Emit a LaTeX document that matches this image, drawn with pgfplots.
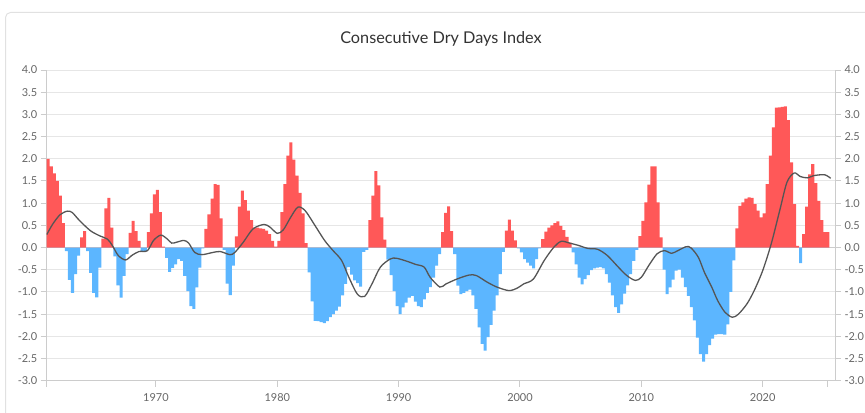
\documentclass[border=0pt]{standalone}
\usepackage{fontspec}
\setmainfont{Lato}
\usepackage{pgfplots}
\pgfplotsset{compat=1.18}
\usepackage{pgfplotstable}
\definecolor{barred}{RGB}{255,88,88}
\definecolor{barblue}{RGB}{92,182,255}
\definecolor{gridgray}{RGB}{230,230,230}
\definecolor{axisgray}{RGB}{204,204,204}
\definecolor{labelgray}{RGB}{102,102,102}
\definecolor{linegray}{RGB}{85,85,85}
\definecolor{titlegray}{RGB}{51,51,51}
\definecolor{cardgray}{RGB}{225,225,225}

\pgfplotstableread{
x pos neg
1961.00 2.00 0
1961.25 1.83 0
1961.50 1.67 0
1961.75 1.50 0
1962.00 1.17 0
1962.25 0.55 0
1962.50 0 -0.08
1962.75 0 -0.73
1963.00 0 -1.02
1963.25 0 -0.60
1963.50 0 -0.18
1963.75 0.23 0
1964.00 0.37 0
1964.25 0 -0.08
1964.50 0 -0.57
1964.75 0 -1.02
1965.00 0 -1.12
1965.25 0 -0.45
1965.50 0.20 0
1965.75 0.88 0
1966.00 1.12 0
1966.25 0.45 0
1966.50 0 -0.20
1966.75 0 -0.85
1967.00 0 -1.13
1967.25 0 -0.64
1967.50 0 -0.15
1967.75 0.33 0
1968.00 0.60 0
1968.25 0.37 0
1968.50 0.15 0
1968.75 0 -0.08
1969.00 0 -0.08
1969.25 0.35 0
1969.50 0.77 0
1969.75 1.20 0
1970.00 1.30 0
1970.25 0.80 0
1970.50 0.02 0
1970.75 0 -0.23
1971.00 0 -0.55
1971.25 0 -0.46
1971.50 0 -0.38
1971.75 0 -0.26
1972.00 0 -0.30
1972.25 0 -0.64
1972.50 0 -0.98
1972.75 0 -1.32
1973.00 0 -1.38
1973.25 0 -0.90
1973.50 0 -0.45
1973.75 0 -0.02
1974.00 0.42 0
1974.25 0.75 0
1974.50 1.10 0
1974.75 1.43 0
1975.00 1.41 0
1975.25 0.66 0
1975.50 0 -0.05
1975.75 0 -0.81
1976.00 0 -1.07
1976.25 0 -0.41
1976.50 0.25 0
1976.75 0.92 0
1977.00 1.28 0
1977.25 1.07 0
1977.50 0.83 0
1977.75 0.62 0
1978.00 0.45 0
1978.25 0.45 0
1978.50 0.43 0
1978.75 0.42 0
1979.00 0.38 0
1979.25 0.30 0
1979.50 0.15 0
1979.75 0.02 0
1980.00 0.15 0
1980.25 0.80 0
1980.50 1.43 0
1980.75 2.07 0
1981.00 2.37 0
1981.25 1.98 0
1981.50 1.62 0
1981.75 1.23 0
1982.00 0.77 0
1982.25 0.10 0
1982.50 0 -0.56
1982.75 0 -1.21
1983.00 0 -1.65
1983.25 0 -1.66
1983.50 0 -1.68
1983.75 0 -1.70
1984.00 0 -1.66
1984.25 0 -1.57
1984.50 0 -1.50
1984.75 0 -1.42
1985.00 0 -1.33
1985.25 0 -1.08
1985.50 0 -0.82
1985.75 0 -0.44
1986.00 0 -0.61
1986.25 0 -0.74
1986.50 0 -0.80
1986.75 0 -0.88
1987.00 0 -0.10
1987.25 0 -0.05
1987.50 0.62 0
1987.75 1.17 0
1988.00 1.72 0
1988.25 1.40 0
1988.50 0.68 0
1988.75 0.18 0
1989.00 0 -0.27
1989.25 0 -0.62
1989.50 0 -0.98
1989.75 0 -1.32
1990.00 0 -1.50
1990.25 0 -1.35
1990.50 0 -1.24
1990.75 0 -1.13
1991.00 0 -1.09
1991.25 0 -1.22
1991.50 0 -1.32
1991.75 0 -1.34
1992.00 0 -1.17
1992.25 0 -1.02
1992.50 0 -0.89
1992.75 0 -0.68
1993.00 0 -0.41
1993.25 0 -0.15
1993.50 0.35 0
1993.75 0.78 0
1994.00 0.93 0
1994.25 0.37 0
1994.50 0 -0.15
1994.75 0 -0.86
1995.00 0 -1.05
1995.25 0 -1.02
1995.50 0 -0.98
1995.75 0 -0.95
1996.00 0 -1.08
1996.25 0 -1.38
1996.50 0 -1.80
1996.75 0 -2.17
1997.00 0 -2.32
1997.25 0 -2.02
1997.50 0 -1.74
1997.75 0 -1.42
1998.00 0 -1.08
1998.25 0 -0.60
1998.50 0 -0.10
1998.75 0.38 0
1999.00 0.63 0
1999.25 0.38 0
1999.50 0.16 0
1999.75 0 -0.02
2000.00 0 -0.11
2000.25 0 -0.26
2000.50 0 -0.34
2000.75 0 -0.41
2001.00 0 -0.47
2001.25 0 -0.26
2001.50 0 -0.02
2001.75 0.19 0
2002.00 0.36 0
2002.25 0.45 0
2002.50 0.50 0
2002.75 0.55 0
2003.00 0.59 0
2003.25 0.49 0
2003.50 0.39 0
2003.75 0.24 0
2004.00 0.11 0
2004.25 0 -0.11
2004.50 0 -0.38
2004.75 0 -0.68
2005.00 0 -0.83
2005.25 0 -0.71
2005.50 0 -0.62
2005.75 0 -0.51
2006.00 0 -0.47
2006.25 0 -0.45
2006.50 0 -0.44
2006.75 0 -0.47
2007.00 0 -0.60
2007.25 0 -0.79
2007.50 0 -1.08
2007.75 0 -1.34
2008.00 0 -1.47
2008.25 0 -1.28
2008.50 0 -1.04
2008.75 0 -0.85
2009.00 0 -0.60
2009.25 0 -0.30
2009.50 0 -0.05
2009.75 0.26 0
2010.00 0.60 0
2010.25 1.02 0
2010.50 1.42 0
2010.75 1.83 0
2011.00 1.83 0
2011.25 1.02 0
2011.50 0.23 0
2011.75 0 -0.50
2012.00 0 -1.05
2012.25 0 -0.90
2012.50 0 -0.72
2012.75 0 -0.52
2013.00 0 -0.50
2013.25 0 -0.68
2013.50 0 -0.89
2013.75 0 -1.09
2014.00 0 -1.34
2014.25 0 -1.64
2014.50 0 -2.03
2014.75 0 -2.40
2015.00 0 -2.57
2015.25 0 -2.40
2015.50 0 -2.20
2015.75 0 -2.05
2016.00 0 -1.96
2016.25 0 -1.95
2016.50 0 -1.95
2016.75 0 -1.96
2017.00 0 -1.73
2017.25 0 -1.00
2017.50 0 -0.29
2017.75 0.43 0
2018.00 0.94 0
2018.25 1.02 0
2018.50 1.10 0
2018.75 1.13 0
2019.00 1.12 0
2019.25 0.98 0
2019.50 0.83 0
2019.75 0.68 0
2020.00 0.77 0
2020.25 1.43 0
2020.50 2.07 0
2020.75 2.71 0
2021.00 3.15 0
2021.25 3.16 0
2021.50 3.17 0
2021.75 3.18 0
2022.00 2.87 0
2022.25 1.92 0
2022.50 0.98 0
2022.75 0.04 0
2023.00 0 -0.35
2023.25 0.30 0
2023.50 0.92 0
2023.75 1.65 0
2024.00 1.88 0
2024.25 1.45 0
2024.50 1.05 0
2024.75 0.62 0
2025.00 0.35 0
2025.25 0.35 0
2025.50 0 0
}\bars

\pgfplotstableread{
x y
1961.0 0.29
1961.5 0.53
1962.1 0.74
1962.7 0.82
1963.1 0.79
1963.7 0.61
1964.6 0.38
1965.4 0.26
1966.0 0.19
1966.4 0.05
1966.9 -0.18
1967.5 -0.28
1968.0 -0.18
1968.6 -0.09
1969.3 -0.07
1969.8 0.16
1970.4 0.28
1970.9 0.20
1971.3 0.10
1971.7 0.12
1972.3 0.16
1972.7 0.10
1973.2 -0.11
1973.8 -0.16
1974.7 -0.11
1975.3 -0.09
1976.1 -0.16
1976.5 -0.11
1977.2 0.12
1978.0 0.42
1978.9 0.52
1979.4 0.46
1980.0 0.32
1980.5 0.40
1981.1 0.68
1981.7 0.91
1982.3 0.83
1983.1 0.50
1983.9 0.16
1984.6 -0.07
1985.3 -0.29
1985.9 -0.67
1986.6 -1.05
1987.2 -1.10
1987.8 -0.82
1988.5 -0.44
1989.3 -0.26
1989.8 -0.24
1990.7 -0.31
1991.4 -0.38
1992.1 -0.44
1992.6 -0.67
1993.4 -0.89
1993.9 -0.82
1994.8 -0.71
1995.8 -0.62
1996.4 -0.63
1997.3 -0.78
1998.1 -0.89
1999.1 -0.97
1999.8 -0.91
2000.3 -0.82
2001.1 -0.71
2002.0 -0.29
2002.8 0.01
2003.4 0.14
2004.1 0.10
2004.8 0.05
2005.6 -0.02
2006.4 -0.04
2007.2 -0.18
2008.1 -0.44
2008.8 -0.63
2009.5 -0.74
2010.0 -0.67
2010.6 -0.41
2011.3 -0.14
2011.9 -0.07
2012.5 -0.13
2013.0 -0.07
2013.7 0.02
2014.1 -0.01
2014.7 -0.22
2015.2 -0.56
2015.8 -0.89
2016.3 -1.20
2016.9 -1.46
2017.5 -1.57
2018.0 -1.50
2018.7 -1.27
2019.3 -0.97
2020.0 -0.52
2020.7 0.08
2021.4 0.83
2022.0 1.47
2022.6 1.68
2023.1 1.60
2023.7 1.57
2024.2 1.62
2025.1 1.64
2025.6 1.56
}\trend

\pgfplotsset{
  common/.style={
    at={(46.7bp,31.3bp)}, anchor=south west,
    scale only axis, width=788.3bp, height=310.7bp,
    xmin=1961, xmax=2025.96, ymin=-3, ymax=4,
    ytick={-3,-2.5,-2,-1.5,-1,-0.5,0,0.5,1,1.5,2,2.5,3,3.5,4},
    tick align=outside, major tick length=6bp,
    tick style={axisgray, line width=1bp},
    axis line style={axisgray, line width=1bp, -},
    tick label style={font=\fontsize{11}{13}\selectfont, text=labelgray},
    /pgf/number format/assume math mode=true,
    yticklabel style={/pgf/number format/.cd, fixed, fixed zerofill, precision=1},
    xticklabel style={/pgf/number format/1000 sep={}, yshift=-3.5bp},
  }
}

\begin{document}
\begin{tikzpicture}[x=1bp,y=1bp]
\path[use as bounding box] (0,0) rectangle (865,412);
\draw[cardgray, line width=1bp, rounded corners=5bp] (5.5,-20) -- (5.5,399.5) -- (900,399.5);
\node[text=titlegray, font=\fontsize{16.3}{19}\selectfont] at (441,373.5) {Consecutive Dry Days Index};
\begin{axis}[common,
  axis x line*=bottom, axis y line*=left,
  xtick={1970,1980,1990,2000,2010,2020},
  extra x ticks={1961,2025.35}, extra x tick labels={},
  ymajorgrids, grid style={gridgray, line width=1bp},
  extra y ticks={0}, extra y tick labels={},
  extra y tick style={grid style={axisgray, line width=1bp}},
]
\addplot[ybar interval, fill=barred, draw=none] table[x=x, y=pos] {\bars};
\addplot[ybar interval, fill=barblue, draw=none] table[x=x, y=neg] {\bars};
\addplot[linegray, line width=1.3bp, smooth, no markers] table[x=x, y=y] {\trend};
\end{axis}
\begin{axis}[common,
  axis x line=none, axis y line*=right,
]
\end{axis}
\end{tikzpicture}
\end{document}
